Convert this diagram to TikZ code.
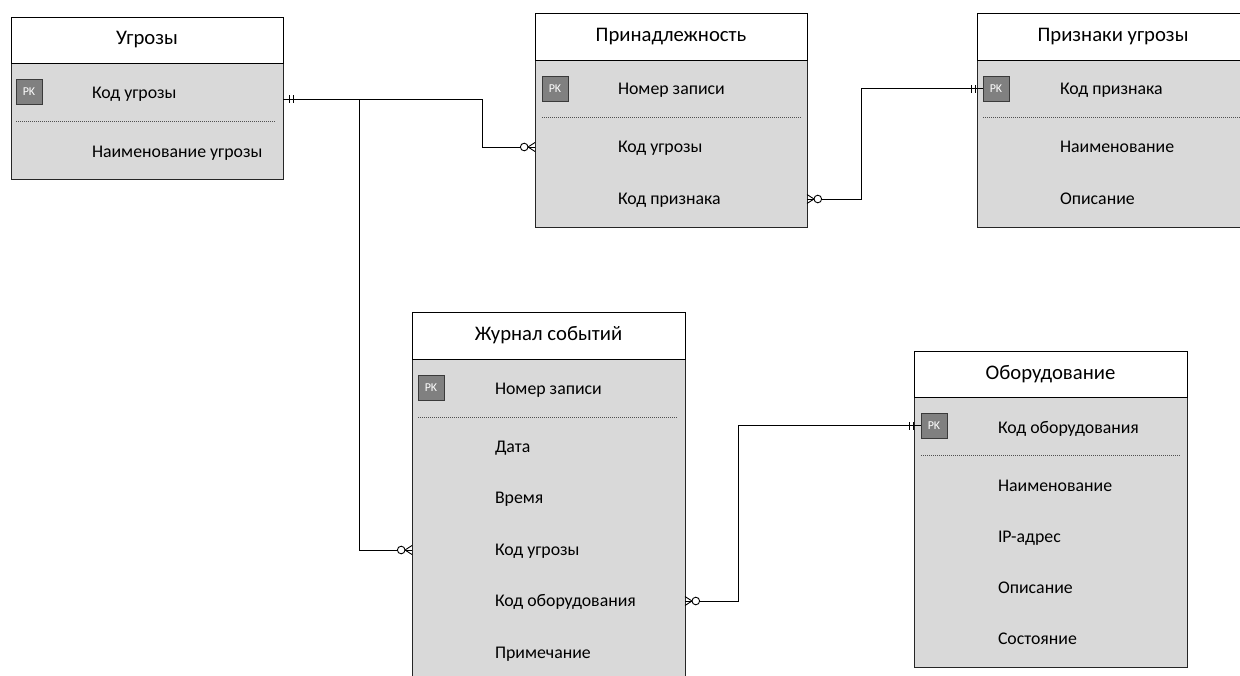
\documentclass[tikz,border=0pt]{standalone}
\usepackage{fontspec}
\setmainfont{Carlito}
\definecolor{bodygrey}{HTML}{D9D9D9}
\definecolor{pkfill}{HTML}{808080}
\definecolor{pkline}{HTML}{3A3A3A}
\definecolor{sepline}{HTML}{505050}
\begin{document}
\begin{tikzpicture}[x=1pt,y=-1pt,
  hdr/.style={draw=black, fill=white, line width=0.9pt, rectangle, inner sep=0pt, outer sep=0pt,
    minimum width=#1, font=\fontsize{20.7}{24}\selectfont},
  hdr/.default=272pt,
  body/.style={draw=black!85, fill=bodygrey, line width=0.9pt, rectangle, inner sep=0pt, outer sep=0pt,
    anchor=north west},
  pk/.style={draw=pkline, fill=pkfill, line width=0.8pt, rectangle, inner sep=0pt, outer sep=0pt,
    anchor=north west, minimum width=26pt, minimum height=25pt, text=white,
    font=\fontsize{12}{14}\selectfont},
  field/.style={anchor=west, inner sep=0pt, outer sep=0pt, text height=10pt, text depth=0pt,
    font=\fontsize{17.8}{21}\selectfont},
  sep/.style={draw=sepline, line width=0.6pt, dash pattern=on 1pt off 1pt},
  conn/.style={draw=black, line width=0.9pt},
  pics/zeromany/.style={code={
    \draw[conn] (0,-4.5) -- (7,0) -- (0,4.5);
    \draw[conn, fill=white] (10.8,0) circle (3.8pt);
  }},
  pics/mandone/.style={code={
    \draw[conn] (#1,-4) -- (#1,4) ({#1+4},-4) -- ({#1+4},4);
  }},
]
\useasboundingbox (0,0) rectangle (1240,675);

% ---------- Угрозы ----------
\node[body, minimum width=272pt, minimum height=116pt] (ugrB) at (11,63) {};
\node[hdr, anchor=north west, minimum height=46pt] (ugrH) at (11,17) {Угрозы};
\node[pk] (ugrPK) at (16,79) {PK};
\node[field] (ugr1) at (92,93) {Код угрозы};
\draw[sep] (16,121) -- (275,121);
\node[field] (ugr2) at (92,152) {Наименование угрозы};

% ---------- Принадлежность ----------
\node[body, minimum width=272pt, minimum height=167pt] (prnB) at (535,60) {};
\node[hdr, anchor=north west, minimum height=47pt] (prnH) at (535,13) {Принадлежность};
\node[pk] (prnPK) at (542,76) {PK};
\node[field] (prn1) at (618,89) {Номер записи};
\draw[sep] (542,117) -- (801,117);
\node[field] (prn2) at (618,147) {Код угрозы};
\node[field] (prn3) at (618,199) {Код признака};

% ---------- Признаки угрозы ----------
\node[body, minimum width=272pt, minimum height=167pt] (prsB) at (977,60) {};
\node[hdr, anchor=north west, minimum height=47pt] (prsH) at (977,13) {Признаки угрозы};
\node[pk] (prsPK) at (983,76) {PK};
\node[field] (prs1) at (1060,89) {Код признака};
\draw[sep] (983,117) -- (1243,117);
\node[field] (prs2) at (1060,147) {Наименование};
\node[field] (prs3) at (1060,199) {Описание};

% ---------- Журнал событий ----------
\node[body, minimum width=273pt, minimum height=340pt] (jrnB) at (412,359) {};
\node[hdr=273pt, anchor=north west, minimum height=47pt] (jrnH) at (412,312) {Журнал событий};
\node[pk] (jrnPK) at (418,375) {PK};
\node[field] (jrn1) at (495,389) {Номер записи};
\draw[sep] (418,417) -- (678,417);
\node[field] (jrn2) at (495,447) {Дата};
\node[field] (jrn3) at (495,498) {Время};
\node[field] (jrn4) at (495,550) {Код угрозы};
\node[field] (jrn5) at (495,601) {Код оборудования};
\node[field] (jrn6) at (495,653) {Примечание};

% ---------- Оборудование ----------
\node[body, minimum width=273pt, minimum height=270pt] (obB) at (914,397) {};
\node[hdr=273pt, anchor=north west, minimum height=46pt] (obH) at (914,351) {Оборудование};
\node[pk] (obPK) at (921,413) {PK};
\node[field] (ob1) at (998,428) {Код оборудования};
\draw[sep] (921,455) -- (1180,455);
\node[field] (ob2) at (998,486) {Наименование};
\node[field] (ob3) at (998,537) {IP-адрес};
\node[field] (ob4) at (998,588) {Описание};
\node[field] (ob5) at (998,639) {Состояние};

% ---------- connection ports ----------
\coordinate (ugrP) at ([yshift=-6pt]ugrB.east |- ugr1.west);
\coordinate (prnP1) at (prnB.west |- prn2.west);
\coordinate (prnP2) at (prnB.east |- prn3.west);
\coordinate (jrnP1) at (jrnB.west |- jrn4.west);
\coordinate (jrnP2) at (jrnB.east |- jrn5.west);

% ---------- relationships ----------
\draw[conn] (ugrP) -- ++(199,0) |- (prnP1);
\draw[conn] (ugrP) ++(76,0) |- (jrnP1);
\draw[conn] (prnP2) -- ++(54,0) |- (prsPK.west);
\draw[conn] (jrnP2) -- ++(53,0) |- (obPK.west);

\pic at (ugrP) {mandone=6};
\pic[rotate=180] at (prsPK.west) {mandone=8};
\pic[rotate=180] at (obPK.west) {mandone=8};
\pic[rotate=180] at (prnP1) {zeromany};
\pic[rotate=180] at (jrnP1) {zeromany};
\pic at (prnP2) {zeromany};
\pic at (jrnP2) {zeromany};
\end{tikzpicture}
\end{document}
